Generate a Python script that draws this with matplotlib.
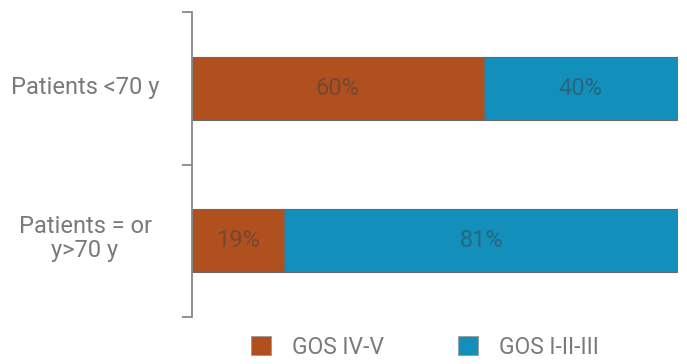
import matplotlib
matplotlib.use("Agg")
import matplotlib.pyplot as plt
import matplotlib.transforms as mtransforms
from matplotlib.patches import Patch

categories = ["Patients <70 y", "Patients = or\ny>70 y"]
series_names = ["GOS IV-V", "GOS I-II-III"]
gos_iv_v = [60, 19]
gos_i_iii = [40, 81]
colors = ["#B0501F", "#138FBB"]

plt.rcParams['font.family'] = ['Roboto', 'DejaVu Sans']

fig = plt.figure(figsize=(6.87, 3.64), dpi=100)
ax = fig.add_axes([192/687, 1-317/364, (678-192)/687, (317-12)/364])

y = list(range(len(categories)))
h = 0.41
ax.barh(y, gos_iv_v, height=h, color=colors[0], edgecolor="#6a6a6a", linewidth=0.8)
ax.barh(y, gos_i_iii, left=gos_iv_v, height=h, color=colors[1], edgecolor="#6a6a6a", linewidth=0.8)

for i in y:
    ax.text(gos_iv_v[i]/2, i, f"{gos_iv_v[i]}%", ha="center", va="center",
            fontsize=17, color="#3a3f44", alpha=0.5)
    ax.text(gos_iv_v[i] + gos_i_iii[i]/2, i, f"{gos_i_iii[i]}%", ha="center", va="center",
            fontsize=17, color="#3a3f44", alpha=0.5)

ax.set_xlim(0, 100)
ax.set_ylim(1.5, -0.5)
ax.set_yticks(y)
ax.set_yticklabels(categories, ha="center", fontsize=17, color="#7a7a7a",
                   multialignment="center", linespacing=1.1)
ax.tick_params(axis="y", which="major", length=0, pad=77)
ax.set_yticks([-0.5, 0.5, 1.5], minor=True)
ax.tick_params(axis="y", which="minor", length=7, width=1.3, color="#888888")
ax.set_xticks([])
for s in ["top", "right", "bottom"]:
    ax.spines[s].set_visible(False)
ax.spines["left"].set_color("#888888")
ax.spines["left"].set_linewidth(1.3)

labels = ax.get_yticklabels()
shift = mtransforms.ScaledTranslation(0, 4/72, fig.dpi_scale_trans)
labels[1].set_transform(labels[1].get_transform() + shift)
shift0 = mtransforms.ScaledTranslation(0, 2/72, fig.dpi_scale_trans)
labels[0].set_transform(labels[0].get_transform() + shift0)

handles = [Patch(facecolor=c, edgecolor="#999999", linewidth=0.6) for c in colors]
fig.legend(handles, series_names, loc="center", bbox_to_anchor=(425/687, 1-347/364),
           ncol=2, frameon=False, fontsize=16.5, labelcolor="#7a7a7a",
           handlelength=0.87, handleheight=0.87, handletextpad=0.95, columnspacing=3.2)

fig.savefig("out.png", dpi=100)
